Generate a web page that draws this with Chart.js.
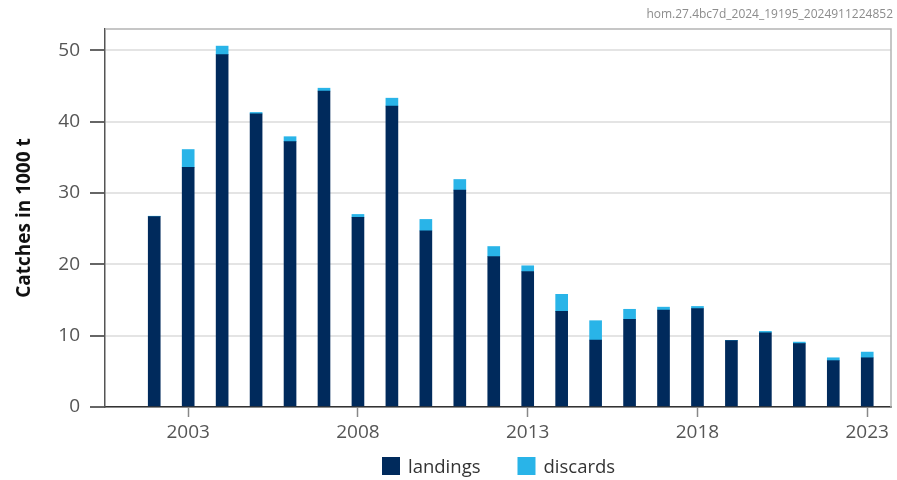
<!DOCTYPE html>
<html>
<head>
<meta charset="utf-8">
<script src="https://cdn.jsdelivr.net/npm/chart.js@4"></script>
<style>
  html, body { margin: 0; padding: 0; background: #fff; }
  #wrap { width: 897px; height: 480px; position: relative; }
</style>
</head>
<body>
<div id="wrap"><canvas id="chart"></canvas></div>
<script>
const years = [2002, 2003, 2004, 2005, 2006, 2007, 2008, 2009, 2010, 2011, 2012,
  2013, 2014, 2015, 2016, 2017, 2018, 2019, 2020, 2021, 2022, 2023];
const landings = [26.7, 33.6, 49.4, 41.1, 37.2, 44.3, 26.6, 42.2, 24.7, 30.4, 21.1,
  19.0, 13.4, 9.4, 12.3, 13.6, 13.8, 9.3, 10.4, 8.9, 6.5, 6.9];
const discards = [0.05, 2.5, 1.2, 0.2, 0.7, 0.4, 0.4, 1.1, 1.6, 1.5, 1.4,
  0.8, 2.4, 2.7, 1.4, 0.4, 0.3, 0.05, 0.2, 0.2, 0.4, 0.8];
const yearTicks = [2003, 2008, 2013, 2018, 2023];
const yTicks = [0, 10, 20, 30, 40, 50];
const stampText = "hom.27.4bc7d_2024_19195_2024911224852";

const FONT = "'Open Sans', 'DejaVu Sans', sans-serif";

// frame round the plot, the stamp at the top and a hand drawn legend
const extras = {
  id: "extras",
  beforeDatasetsDraw(chart) {
    const { ctx, chartArea: a } = chart;
    ctx.save();
    ctx.strokeStyle = "#b4b4b4";
    ctx.lineWidth = 1.5;
    ctx.beginPath();
    ctx.moveTo(a.left, a.top);
    ctx.lineTo(a.right, a.top);
    ctx.lineTo(a.right, a.bottom);
    ctx.stroke();
    ctx.restore();
  },
  afterDraw(chart) {
    const ctx = chart.ctx;
    ctx.save();
    ctx.font = "12px " + FONT;
    ctx.fillStyle = "#8c8c8c";
    ctx.textAlign = "right";
    ctx.textBaseline = "middle";
    ctx.fillText(stampText, 893, 15);

    ctx.font = "18.5px " + FONT;
    ctx.textAlign = "left";
    const box = 18, gap = 8, between = 37, cy = 467;
    let x = 382;
    chart.data.datasets.forEach((d) => {
      ctx.fillStyle = d.backgroundColor;
      ctx.fillRect(x, cy - box / 2 - 1, box, box);
      ctx.fillStyle = "#333";
      ctx.fillText(d.label, x + box + gap, cy + 1);
      x += box + gap + ctx.measureText(d.label).width + between;
    });
    ctx.restore();
  }
};

new Chart(document.getElementById("chart"), {
  type: "bar",
  data: {
    datasets: [
      {
        label: "landings",
        data: years.map((y, i) => ({ x: y, y: landings[i] })),
        backgroundColor: "#002a5c",
        barThickness: 12,
      },
      {
        label: "discards",
        data: years.map((y, i) => ({ x: y, y: discards[i] })),
        backgroundColor: "#29b4e8",
        barThickness: 12,
      },
    ],
  },
  options: {
    responsive: true,
    maintainAspectRatio: false,
    animation: false,
    layout: { padding: { top: 29, right: 6, left: 0, bottom: 27 } },
    plugins: {
      legend: { display: false },
      tooltip: { enabled: false },
    },
    scales: {
      x: {
        type: "linear",
        stacked: true,
        offset: false,
        min: 2000.55,
        max: 2023.7,
        afterBuildTicks: (s) => { s.ticks = yearTicks.map((v) => ({ value: v })); },
        afterFit: (s) => { s.height = 46; },
        grid: { offset: false, drawOnChartArea: false, tickLength: 10, tickColor: "#888", tickWidth: 1.5 },
        border: { color: "#333", width: 1.5 },
        ticks: {
          callback: (v) => String(v),
          font: { family: FONT, size: 19 },
          color: "#555",
          padding: 4,
          maxRotation: 0,
        },
      },
      y: {
        stacked: true,
        min: 0,
        max: 53,
        afterBuildTicks: (s) => { s.ticks = yTicks.map((v) => ({ value: v })); },
        afterFit: (s) => { s.width = 105; },
        grid: { color: "#e4e4e4", lineWidth: 2, tickLength: 15, tickColor: "#666", tickWidth: 2 },
        border: { color: "#555", width: 1.5 },
        ticks: {
          font: { family: FONT, size: 19 },
          color: "#555",
          padding: 10,
        },
        title: {
          display: true,
          text: "Catches in 1000 t",
          font: { family: FONT, size: 19, weight: "bold" },
          color: "#111",
          padding: { top: 13, bottom: 0 },
        },
      },
    },
  },
  plugins: [extras],
});
</script>
</body>
</html>
